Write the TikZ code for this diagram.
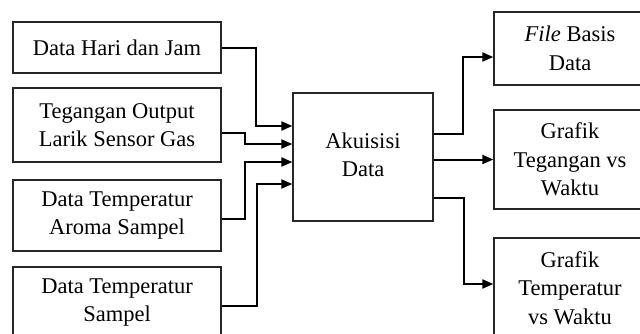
\documentclass[tikz,border=0pt]{standalone}
\usepackage{fontspec}
\setmainfont{Liberation Serif}
\usetikzlibrary{arrows.meta}
\begin{document}
\begin{tikzpicture}[x=1pt,y=1pt,
  box/.style={draw=black!85,line width=1.3pt,inner sep=0pt,align=center,
    font=\fontsize{22.5}{28.5}\selectfont},
  arr/.style={line width=2pt,-{Triangle[length=11pt,width=9pt]}}]
\useasboundingbox (0,0) rectangle (640,-333);
\clip (0,0) rectangle (640,-333);
\node[box,minimum width=208pt,minimum height=51pt] (b1) at (117,-47.5) {Data Hari dan Jam};
\node[box,minimum width=208pt,minimum height=74pt] (b2) at (117,-125) {Tegangan Output\\Larik Sensor Gas};
\node[box,minimum width=208pt,minimum height=71pt] (b3) at (117,-215.5) {Data Temperatur\\Aroma Sampel};
\node[box,minimum width=208pt,minimum height=71pt] (b4) at (117,-302.5) {Data Temperatur\\Sampel};
\node[box,minimum width=140pt,minimum height=128pt] (c) at (363,-157) {\raisebox{4pt}{\begin{tabular}{@{}c@{}}Akuisisi\\Data\end{tabular}}};
\node[box,minimum width=152pt,minimum height=73pt] (r1) at (570,-48.5) {\textit{File} Basis\\Data};
\node[box,minimum width=152pt,minimum height=99pt] (r2) at (570,-159.5) {Grafik\\Tegangan vs\\Waktu};
\node[box,minimum width=152pt,minimum height=100pt] (r3) at (570,-288) {Grafik\\Temperatur\\vs Waktu};
% inputs
\draw[arr] (b1.east) -| ([xshift=-36pt,yshift=31pt]c.west) -- ([yshift=31pt]c.west);
\draw[arr] ([yshift=-8pt]b2.east) -| ([xshift=-47pt,yshift=13pt]c.west) -- ([yshift=13pt]c.west);
\draw[arr] ([yshift=-3.5pt]b3.east) -| ([xshift=-47pt,yshift=-5pt]c.west) -- ([yshift=-5pt]c.west);
\draw[arr] ([yshift=-3.5pt]b4.east) -| ([xshift=-35pt,yshift=-27pt]c.west) -- ([yshift=-27pt]c.west);
% outputs
\draw[arr] ([yshift=23pt]c.east) -| ([xshift=-30pt,yshift=-8.5pt]r1.west) -- ([yshift=-8.5pt]r1.west);
\draw[arr] (c.east |- r2.west) -- (r2.west);
\draw[arr] ([yshift=-41pt]c.east) -| ([xshift=-29pt,yshift=4pt]r3.west) -- ([yshift=4pt]r3.west);
\end{tikzpicture}
\end{document}
